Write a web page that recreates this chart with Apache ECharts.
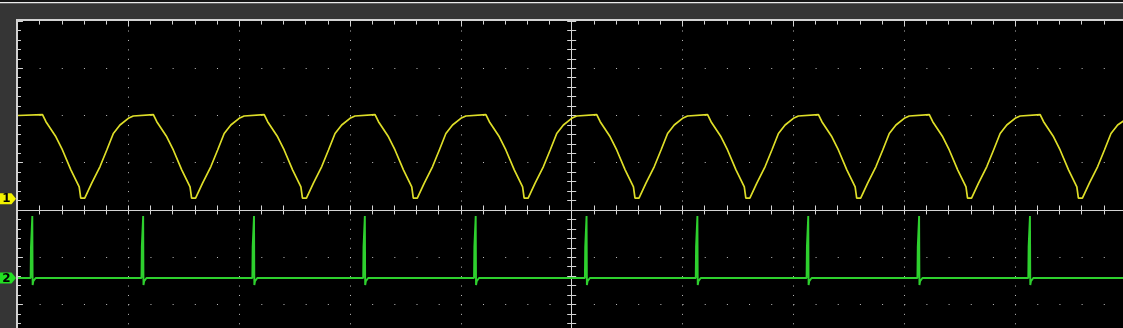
<!DOCTYPE html>
<html>
<head>
<meta charset="utf-8">
<script src="https://cdn.jsdelivr.net/npm/echarts@6/dist/echarts.min.js"></script>
<style>
  html, body { margin: 0; padding: 0; background: #353535; overflow: hidden; width: 1123px; height: 328px; }
  #chart { width: 1130px; height: 404px; }
</style>
</head>
<body>
<div id="chart"></div>
<script>
// Time axis in divisions (0 = screen centre), vertical axis in divisions (0 = screen centre)
const xTicks = [-5, -4, -3, -2, -1, 0, 1, 2, 3, 4, 5];
const yTicks = [-4, -3, -2, -1, 0, 1, 2, 3, 4];
const channelLabels = ['1', '2'];

const ch1Time = [
  -5.000, -4.774, -4.743, -4.653, -4.594, -4.518, -4.443,
  -4.429, -4.393, -4.330, -4.255, -4.194, -4.135, -4.075, -4.000, -3.955, -3.774, -3.743, -3.653, -3.594, -3.518, -3.443,
  -3.429, -3.393, -3.330, -3.255, -3.194, -3.135, -3.075, -3.000, -2.955, -2.774, -2.743, -2.653, -2.594, -2.518, -2.443,
  -2.429, -2.393, -2.330, -2.255, -2.194, -2.135, -2.075, -2.000, -1.955, -1.774, -1.743, -1.653, -1.594, -1.518, -1.443,
  -1.429, -1.393, -1.330, -1.255, -1.194, -1.135, -1.075, -1.000, -0.955, -0.774, -0.743, -0.653, -0.594, -0.518, -0.443,
  -0.429, -0.393, -0.330, -0.255, -0.194, -0.135, -0.075, 0.000, 0.045, 0.226, 0.257, 0.347, 0.406, 0.482, 0.557,
  0.571, 0.607, 0.670, 0.745, 0.806, 0.865, 0.925, 1.000, 1.045, 1.226, 1.257, 1.347, 1.406, 1.482, 1.557,
  1.571, 1.607, 1.670, 1.745, 1.806, 1.865, 1.925, 2.000, 2.045, 2.226, 2.257, 2.347, 2.406, 2.482, 2.557,
  2.571, 2.607, 2.670, 2.745, 2.806, 2.865, 2.925, 3.000, 3.045, 3.226, 3.257, 3.347, 3.406, 3.482, 3.557,
  3.571, 3.607, 3.670, 3.745, 3.806, 3.865, 3.925, 4.000, 4.045, 4.226, 4.257, 4.347, 4.406, 4.482, 4.557,
  4.571, 4.607, 4.670, 4.745, 4.806, 4.865, 4.925, 5.000
];
const ch1Value = [
  2.00, 2.02, 1.87, 1.55, 1.27, 0.85, 0.49,
  0.25, 0.25, 0.57, 0.92, 1.27, 1.62, 1.80, 1.94, 1.99, 2.02, 1.87, 1.55, 1.27, 0.85, 0.49,
  0.25, 0.25, 0.57, 0.92, 1.27, 1.62, 1.80, 1.94, 1.99, 2.02, 1.87, 1.55, 1.27, 0.85, 0.49,
  0.25, 0.25, 0.57, 0.92, 1.27, 1.62, 1.80, 1.94, 1.99, 2.02, 1.87, 1.55, 1.27, 0.85, 0.49,
  0.25, 0.25, 0.57, 0.92, 1.27, 1.62, 1.80, 1.94, 1.99, 2.02, 1.87, 1.55, 1.27, 0.85, 0.49,
  0.25, 0.25, 0.57, 0.92, 1.27, 1.62, 1.80, 1.94, 1.99, 2.02, 1.87, 1.55, 1.27, 0.85, 0.49,
  0.25, 0.25, 0.57, 0.92, 1.27, 1.62, 1.80, 1.94, 1.99, 2.02, 1.87, 1.55, 1.27, 0.85, 0.49,
  0.25, 0.25, 0.57, 0.92, 1.27, 1.62, 1.80, 1.94, 1.99, 2.02, 1.87, 1.55, 1.27, 0.85, 0.49,
  0.25, 0.25, 0.57, 0.92, 1.27, 1.62, 1.80, 1.94, 1.99, 2.02, 1.87, 1.55, 1.27, 0.85, 0.49,
  0.25, 0.25, 0.57, 0.92, 1.27, 1.62, 1.80, 1.94, 1.99, 2.02, 1.87, 1.55, 1.27, 0.85, 0.49,
  0.25, 0.25, 0.57, 0.92, 1.27, 1.62, 1.80, 1.92
];

// Channel 2 (green) – baseline with spikes
const ch2Time = [
  -5.000,
  -4.881, -4.878, -4.871, -4.866, -4.863, -4.857, -4.839, -4.836,
  -3.881, -3.878, -3.871, -3.866, -3.863, -3.857, -3.839, -3.836,
  -2.881, -2.878, -2.871, -2.866, -2.863, -2.857, -2.839, -2.836,
  -1.881, -1.878, -1.871, -1.866, -1.863, -1.857, -1.839, -1.836,
  -0.881, -0.878, -0.871, -0.866, -0.863, -0.857, -0.839, -0.836,
  0.119, 0.122, 0.129, 0.134, 0.137, 0.143, 0.161, 0.164,
  1.119, 1.122, 1.129, 1.134, 1.137, 1.143, 1.161, 1.164,
  2.119, 2.122, 2.129, 2.134, 2.137, 2.143, 2.161, 2.164,
  3.119, 3.122, 3.129, 3.134, 3.137, 3.143, 3.161, 3.164,
  4.119, 4.122, 4.129, 4.134, 4.137, 4.143, 4.161, 4.164,
  5.000
];
const ch2Value = [
  -1.44,
  -1.44, -0.78, -0.78, -0.13, -1.59, -1.51, -1.51, -1.44,
  -1.44, -0.78, -0.78, -0.13, -1.59, -1.51, -1.51, -1.44,
  -1.44, -0.78, -0.78, -0.13, -1.59, -1.51, -1.51, -1.44,
  -1.44, -0.78, -0.78, -0.13, -1.59, -1.51, -1.51, -1.44,
  -1.44, -0.78, -0.78, -0.13, -1.59, -1.51, -1.51, -1.44,
  -1.44, -0.78, -0.78, -0.13, -1.59, -1.51, -1.51, -1.44,
  -1.44, -0.78, -0.78, -0.13, -1.59, -1.51, -1.51, -1.44,
  -1.44, -0.78, -0.78, -0.13, -1.59, -1.51, -1.51, -1.44,
  -1.44, -0.78, -0.78, -0.13, -1.59, -1.51, -1.51, -1.44,
  -1.44, -0.78, -0.78, -0.13, -1.59, -1.51, -1.51, -1.44,
  -1.44
];
// channel ground marker levels (divisions)
const ch1Ground = 0.24;
const ch2Ground = -1.44;

const chart = echarts.init(document.getElementById('chart'), null, { renderer: 'canvas' });

const gridLeft = 17.45, gridTop = 21.07, gridW = 1108.5, gridH = 377.8;
const xMin = xTicks[0], xMax = xTicks[xTicks.length - 1];
const yMin = yTicks[0], yMax = yTicks[yTicks.length - 1];
const divX = gridW / (xMax - xMin), divY = gridH / (yMax - yMin);
const tickCol = '#d4d4d4';
const dotCol = '#bdbdbd';

function centerXAxis(inside, withSplit) {
  return {
    type: 'value', min: xMin, max: xMax, interval: 1, position: 'bottom',
    axisLine: { show: true, onZero: true, onZeroAxisIndex: 0, lineStyle: { color: tickCol, width: 1 } },
    axisTick: { show: true, inside: inside, length: 4.5, lineStyle: { color: tickCol, width: 1 } },
    minorTick: { show: true, splitNumber: 5, length: 4.5, lineStyle: { color: tickCol, width: 1 } },
    axisLabel: { show: false },
    splitLine: withSplit ? { show: true, showMinLine: false, showMaxLine: false,
      lineStyle: { color: dotCol, width: 1, type: [1, divY / 5 - 1] } } : { show: false },
    minorSplitLine: { show: false }
  };
}
function centerYAxis(inside, withSplit) {
  return {
    type: 'value', min: yMin, max: yMax, interval: 1, position: 'left',
    axisLine: { show: true, onZero: true, onZeroAxisIndex: 0, lineStyle: { color: tickCol, width: 1 } },
    axisTick: { show: true, inside: inside, length: 4.5, lineStyle: { color: tickCol, width: 1 } },
    minorTick: { show: true, splitNumber: 5, length: 4.5, lineStyle: { color: tickCol, width: 1 } },
    axisLabel: { show: false },
    splitLine: withSplit ? { show: true, showMinLine: false, showMaxLine: false,
      lineStyle: { color: dotCol, width: 1, type: [1, divX / 5 - 1] } } : { show: false },
    minorSplitLine: { show: false }
  };
}

const option = {
  animation: false,
  backgroundColor: '#353535',
  grid: { left: gridLeft, top: gridTop, width: gridW, height: gridH, show: true,
          backgroundColor: '#000000', borderWidth: 0, outerBoundsMode: 'none' },
  xAxis: [
    centerXAxis(false, true),
    centerXAxis(true, false),
    {
      type: 'value', min: xMin, max: xMax, interval: 1, position: 'top',
      axisLine: { show: false, onZero: false },
      axisTick: { show: true, inside: true, length: 5.5, lineStyle: { color: tickCol } },
      minorTick: { show: true, splitNumber: 5, length: 3.5, lineStyle: { color: tickCol } },
      axisLabel: { show: false }, splitLine: { show: false }
    }
  ],
  yAxis: [
    centerYAxis(false, true),
    centerYAxis(true, false),
    {
      type: 'value', min: yMin, max: yMax, interval: 1, position: 'left',
      axisLine: { show: false, onZero: false },
      axisTick: { show: true, inside: true, length: 5.5, lineStyle: { color: tickCol } },
      minorTick: { show: true, splitNumber: 5, length: 3.5, lineStyle: { color: tickCol } },
      axisLabel: { show: false }, splitLine: { show: false }
    }
  ],
  series: [
    {
      name: 'CH1', type: 'line', xAxisIndex: 0, yAxisIndex: 0,
      data: ch1Time.map((t, i) => [t, ch1Value[i]]),
      showSymbol: false, symbol: 'none', smooth: false, z: 5,
      lineStyle: { color: '#dede28', width: 1.7 }
    },
    {
      name: 'CH2', type: 'line', xAxisIndex: 0, yAxisIndex: 0,
      data: ch2Time.map((t, i) => [t, ch2Value[i]]),
      showSymbol: false, symbol: 'none', smooth: false, z: 5,
      lineStyle: { color: '#2ed02e', width: 1.9 }
    }
  ],
  graphic: []
};

chart.setOption(option);

// frame decorations and channel markers
const y1 = chart.convertToPixel({ xAxisIndex: 0, yAxisIndex: 0 }, [0, ch1Ground])[1];
const y2 = chart.convertToPixel({ xAxisIndex: 0, yAxisIndex: 0 }, [0, ch2Ground])[1];
function marker(y, label, fill) {
  return [
    { type: 'polygon', z: 100, shape: { points: [[0, y - 5.5], [11.5, y - 5.5], [16, y], [11.5, y + 5.5], [0, y + 5.5]] },
      style: { fill: fill } },
    { type: 'text', z: 101, x: 6.5, y: y + 0.5,
      style: { text: label, fill: '#000', font: 'bold 12px "DejaVu Sans", sans-serif',
               align: 'center', verticalAlign: 'middle' } }
  ];
}
chart.setOption({
  graphic: [
    { type: 'rect', z: 90, shape: { x: 0, y: 0, width: 1130, height: 2 }, style: { fill: '#161616' } },
    { type: 'rect', z: 90, shape: { x: 0, y: 2, width: 1130, height: 1.5 }, style: { fill: '#ececec' } },
    { type: 'rect', z: 90, shape: { x: 0, y: 3.5, width: 1130, height: 15.5 }, style: { fill: '#353535' } },
    { type: 'rect', z: 90, shape: { x: 0, y: 19, width: 16, height: 385 }, style: { fill: '#353535' } },
    { type: 'rect', z: 91, shape: { x: 16, y: 19, width: 1114, height: 2 }, style: { fill: '#d2d2d2' } },
    { type: 'rect', z: 91, shape: { x: 16, y: 19, width: 2, height: 385 }, style: { fill: '#d2d2d2' } }
  ].concat(marker(y1, channelLabels[0], '#f2f200'), marker(y2, channelLabels[1], '#22e022'))
});
</script>
</body>
</html>
